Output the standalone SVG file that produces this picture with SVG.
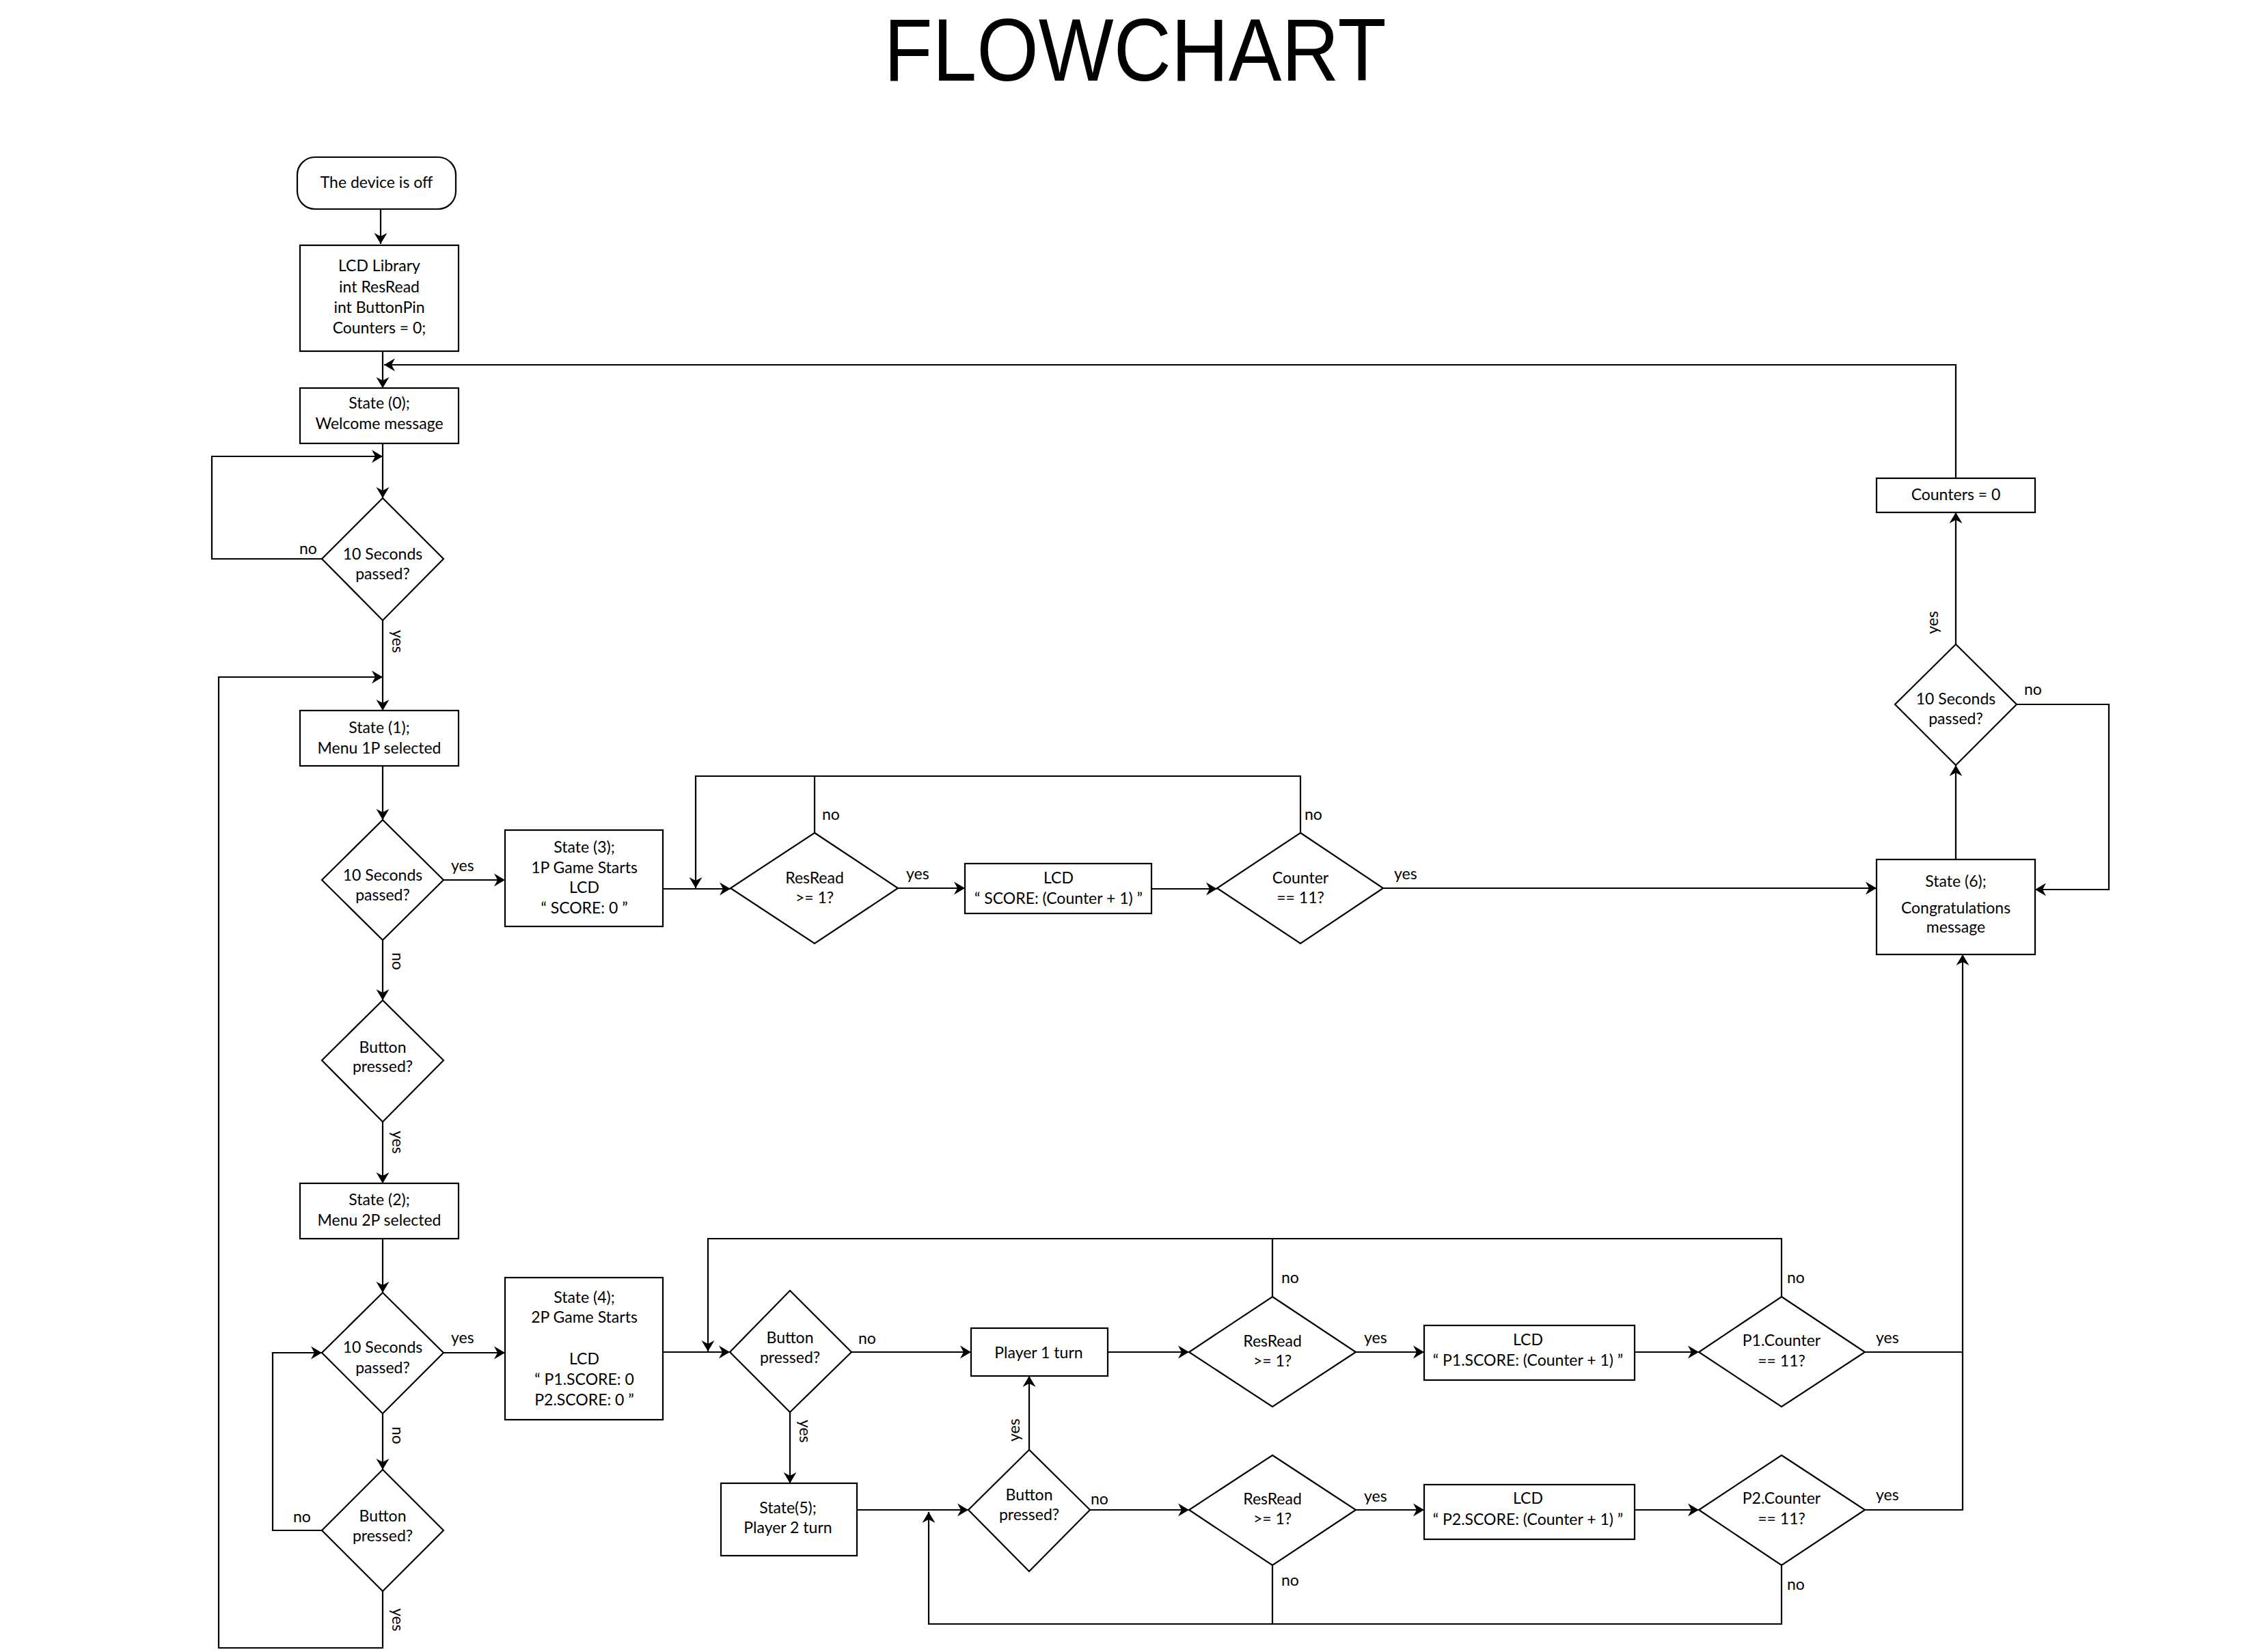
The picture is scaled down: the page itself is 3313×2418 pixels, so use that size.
<svg xmlns="http://www.w3.org/2000/svg" width="3313" height="2418" viewBox="0 0 3313 2418">
<style>
.box{fill:#fff;stroke:#000;stroke-width:2.2}
.ln{fill:none;stroke:#000;stroke-width:2.2}
.a{marker-end:url(#ah)}
text{font-family:Lato,"Liberation Sans",sans-serif;font-size:23px;fill:#000}
.c{text-anchor:middle}
</style>
<defs>
<marker id="ah" viewBox="-17 -10 18 20" markerWidth="18" markerHeight="20" refX="0" refY="0" orient="auto" markerUnits="userSpaceOnUse"><path d="M0,0 L-16,-9.5 L-11,0 L-16,9.5 Z" fill="#000"/></marker>
</defs>
<rect width="3313" height="2418" fill="#fff"/>
<text id="title" x="1661" y="118" class="c" style="font-family:'Liberation Sans',Arial,sans-serif;font-size:130px" textLength="735" lengthAdjust="spacingAndGlyphs">FLOWCHART</text>

<g id="connectors">
<path class="ln a" d="M557,306 V357"/>
<path class="ln a" d="M560,514 V568"/>
<path class="ln a" d="M2862,700 V534 H562"/>
<path class="ln a" d="M560,649 V729"/>
<path class="ln a" d="M471,818 H310 V668 H560"/>
<path class="ln a" d="M560,908 V1040"/>
<path class="ln a" d="M560,2329 V2412 H320 V991 H560"/>
<path class="ln a" d="M560,1121 V1200"/>
<path class="ln a" d="M649,1288 H739"/>
<path class="ln a" d="M560,1376 V1464"/>
<path class="ln a" d="M560,1642 V1732"/>
<path class="ln a" d="M560,1813 V1892"/>
<path class="ln a" d="M649,1980 H739"/>
<path class="ln a" d="M560,2069 V2151"/>
<path class="ln a" d="M471,2240 H399 V1980 H471"/>
<path class="ln a" d="M970,1301 H1069"/>
<path class="ln" d="M1192,1219 V1136"/>
<path class="ln a" d="M1903,1219 V1136 H1018 V1300"/>
<path class="ln a" d="M1314,1300 H1412"/>
<path class="ln a" d="M1685,1301 H1781"/>
<path class="ln a" d="M2024,1300 H2746"/>
<path class="ln a" d="M2862,1258 V1120"/>
<path class="ln a" d="M2862,943 V750"/>
<path class="ln a" d="M2951,1031 H3086 V1302 H2978"/>
<path class="ln a" d="M970,1979 H1068"/>
<path class="ln" d="M1862,1898 V1813"/>
<path class="ln a" d="M2607,1898 V1813 H1036 V1978"/>
<path class="ln a" d="M1246,1979 H1421"/>
<path class="ln a" d="M1621,1979 H1740"/>
<path class="ln a" d="M1984,1979 H2084"/>
<path class="ln a" d="M2392,1979 H2486"/>
<path class="ln" d="M2729,1979 H2872"/>
<path class="ln a" d="M2729,2210 H2872 V1397"/>
<path class="ln a" d="M1156,2067 V2171"/>
<path class="ln a" d="M1254,2210 H1417"/>
<path class="ln a" d="M1506,2122 V2014"/>
<path class="ln a" d="M1595,2210 H1740"/>
<path class="ln a" d="M1984,2210 H2084"/>
<path class="ln a" d="M2392,2210 H2486"/>
<path class="ln" d="M1862,2291 V2377"/>
<path class="ln a" d="M2607,2291 V2377 H1359 V2213"/>
</g>

<g id="labels">
<text x="438" y="811">no</text>
<text transform="translate(574,922) rotate(90)">yes</text>
<text x="660" y="1275">yes</text>
<text transform="translate(574,1394) rotate(90)">no</text>
<text transform="translate(574,1655) rotate(90)">yes</text>
<text x="660" y="1966">yes</text>
<text transform="translate(574,2088) rotate(90)">no</text>
<text x="429" y="2228">no</text>
<text transform="translate(574,2354) rotate(90)">yes</text>
<text x="1203" y="1200">no</text>
<text x="1326" y="1287">yes</text>
<text x="1909" y="1200">no</text>
<text x="2040" y="1287">yes</text>
<text transform="translate(2836,928) rotate(-90)">yes</text>
<text x="2962" y="1017">no</text>
<text x="1256" y="1967">no</text>
<text transform="translate(1170,2078) rotate(90)">yes</text>
<text transform="translate(1492,2110) rotate(-90)">yes</text>
<text x="1596" y="2202">no</text>
<text x="1875" y="1878">no</text>
<text x="1996" y="1966">yes</text>
<text x="1996" y="2198">yes</text>
<text x="1875" y="2321">no</text>
<text x="2615" y="1878">no</text>
<text x="2745" y="1966">yes</text>
<text x="2745" y="2196">yes</text>
<text x="2615" y="2327">no</text>
</g>

<g id="start"><rect class="box" x="435" y="230" width="232" height="76" rx="26"/><text class="c" x="551" y="275">The device is off</text></g>
<g id="init"><rect class="box" x="439" y="359" width="232" height="155"/>
<text class="c" x="555" y="397">LCD Library</text><text class="c" x="555" y="428">int ResRead</text><text class="c" x="555" y="458">int ButtonPin</text><text class="c" x="555" y="488">Counters = 0;</text></g>
<g id="state0"><rect class="box" x="439" y="568" width="232" height="81"/><text class="c" x="555" y="598">State (0);</text><text class="c" x="555" y="628">Welcome message</text></g>
<g id="d1"><path class="box" d="M560,729 L649,818 L560,908 L471,818 Z"/><text class="c" x="560" y="819">10 Seconds</text><text class="c" x="560" y="848">passed?</text></g>
<g id="state1"><rect class="box" x="439" y="1040" width="232" height="81"/><text class="c" x="555" y="1073">State (1);</text><text class="c" x="555" y="1103">Menu 1P selected</text></g>
<g id="d2"><path class="box" d="M560,1200 L649,1288 L560,1376 L471,1288 Z"/><text class="c" x="560" y="1289">10 Seconds</text><text class="c" x="560" y="1318">passed?</text></g>
<g id="state3"><rect class="box" x="739" y="1215" width="231" height="141"/><text class="c" x="855" y="1248">State (3);</text><text class="c" x="855" y="1278">1P Game Starts</text><text class="c" x="855" y="1307">LCD</text><text class="c" x="855" y="1337">“ SCORE: 0 ”</text></g>
<g id="bp1"><path class="box" d="M560,1464 L649,1552 L560,1642 L471,1552 Z"/><text class="c" x="560" y="1541">Button</text><text class="c" x="560" y="1569">pressed?</text></g>
<g id="state2"><rect class="box" x="439" y="1732" width="232" height="81"/><text class="c" x="555" y="1764">State (2);</text><text class="c" x="555" y="1794">Menu 2P selected</text></g>
<g id="d3"><path class="box" d="M560,1892 L649,1980 L560,2069 L471,1980 Z"/><text class="c" x="560" y="1980">10 Seconds</text><text class="c" x="560" y="2010">passed?</text></g>
<g id="state4"><rect class="box" x="739" y="1870" width="231" height="208"/><text class="c" x="855" y="1907">State (4);</text><text class="c" x="855" y="1936">2P Game Starts</text><text class="c" x="855" y="1997">LCD</text><text class="c" x="855" y="2027">“ P1.SCORE: 0</text><text class="c" x="855" y="2057">P2.SCORE: 0 ”</text></g>
<g id="bp2"><path class="box" d="M560,2151 L649,2240 L560,2329 L471,2240 Z"/><text class="c" x="560" y="2227">Button</text><text class="c" x="560" y="2256">pressed?</text></g>

<g id="rr"><path class="box" d="M1192,1219 L1314,1300 L1192,1381 L1069,1300 Z"/><text class="c" x="1192" y="1293">ResRead</text><text class="c" x="1192" y="1322">&gt;= 1?</text></g>
<g id="lcd1"><rect class="box" x="1412" y="1264" width="273" height="73"/><text class="c" x="1549" y="1293">LCD</text><text class="c" x="1549" y="1323">“ SCORE: (Counter + 1) ”</text></g>
<g id="counter"><path class="box" d="M1903,1219 L2024,1300 L1903,1381 L1781,1300 Z"/><text class="c" x="1903" y="1293">Counter</text><text class="c" x="1903" y="1322">== 11?</text></g>
<g id="state6"><rect class="box" x="2746" y="1258" width="232" height="139"/><text class="c" x="2862" y="1298">State (6);</text><text class="c" x="2862" y="1337">Congratulations</text><text class="c" x="2862" y="1365">message</text></g>
<g id="d6"><path class="box" d="M2862,943 L2951,1031 L2862,1120 L2773,1031 Z"/><text class="c" x="2862" y="1031">10 Seconds</text><text class="c" x="2862" y="1060">passed?</text></g>
<g id="reset"><rect class="box" x="2746" y="700" width="232" height="50"/><text class="c" x="2862" y="732">Counters = 0</text></g>

<g id="bp3"><path class="box" d="M1156,1889 L1246,1979 L1156,2067 L1068,1979 Z"/><text class="c" x="1156" y="1966">Button</text><text class="c" x="1156" y="1995">pressed?</text></g>
<g id="p1turn"><rect class="box" x="1421" y="1944" width="200" height="70"/><text class="c" x="1520" y="1988">Player 1 turn</text></g>
<g id="rr1"><path class="box" d="M1862,1898 L1984,1979 L1862,2059 L1740,1979 Z"/><text class="c" x="1862" y="1971">ResRead</text><text class="c" x="1862" y="2000">&gt;= 1?</text></g>
<g id="lcdp1"><rect class="box" x="2084" y="1940" width="308" height="80"/><text class="c" x="2236" y="1969">LCD</text><text class="c" x="2236" y="1999">“ P1.SCORE: (Counter + 1) ”</text></g>
<g id="p1c"><path class="box" d="M2607,1898 L2729,1979 L2607,2059 L2486,1979 Z"/><text class="c" x="2607" y="1970">P1.Counter</text><text class="c" x="2607" y="2000">== 11?</text></g>
<g id="state5"><rect class="box" x="1055" y="2171" width="199" height="106"/><text class="c" x="1153" y="2215">State(5);</text><text class="c" x="1153" y="2244">Player 2 turn</text></g>
<g id="bp4"><path class="box" d="M1506,2122 L1595,2210 L1506,2300 L1417,2210 Z"/><text class="c" x="1506" y="2196">Button</text><text class="c" x="1506" y="2225">pressed?</text></g>
<g id="rr2"><path class="box" d="M1862,2130 L1984,2210 L1862,2291 L1740,2210 Z"/><text class="c" x="1862" y="2202">ResRead</text><text class="c" x="1862" y="2231">&gt;= 1?</text></g>
<g id="lcdp2"><rect class="box" x="2084" y="2173" width="308" height="80"/><text class="c" x="2236" y="2201">LCD</text><text class="c" x="2236" y="2232">“ P2.SCORE: (Counter + 1) ”</text></g>
<g id="p2c"><path class="box" d="M2607,2130 L2729,2210 L2607,2291 L2486,2210 Z"/><text class="c" x="2607" y="2201">P2.Counter</text><text class="c" x="2607" y="2231">== 11?</text></g>
</svg>
